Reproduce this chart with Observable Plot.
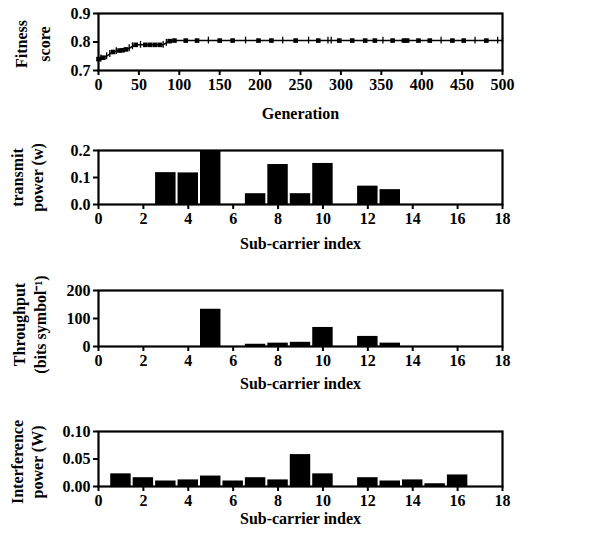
<!DOCTYPE html>
<html>
<head>
<meta charset="utf-8">
<script src="https://cdn.jsdelivr.net/npm/d3@7"></script>
<script src="https://cdn.jsdelivr.net/npm/@observablehq/plot@0.6"></script>
<style>
  html, body { margin: 0; padding: 0; background: #fff; }
  #chart { width: 601px; height: 541px; position: relative; }
  #chart svg { display: block; overflow: visible !important; background: transparent !important; }
</style>
</head>
<body>
<div id="chart"></div>
<script>
// ---- Data ----
const fitGen = [0,3,6,10,14,18,22,26,30,34,38,42,46,52,58,64,70,76,80,84,88,94,108,122,136,150,166,182,198,214,228,244,260,272,284,288,298,314,330,342,352,364,378,382,396,410,424,438,452,466,480,494,500];
const fitVal = [0.740,0.742,0.745,0.750,0.758,0.765,0.768,0.770,0.771,0.774,0.778,0.785,0.790,0.790,0.790,0.790,0.790,0.790,0.790,0.797,0.803,0.805,0.805,0.805,0.805,0.805,0.805,0.805,0.805,0.805,0.805,0.805,0.805,0.805,0.805,0.805,0.805,0.805,0.805,0.805,0.805,0.805,0.805,0.805,0.805,0.805,0.805,0.805,0.805,0.805,0.805,0.805,0.805];
const fitSym = ["s","p","s","p","p","s","p","s","s","s","p","p","s","p","s","s","s","s","p","p","s","s","s","s","p","s","s","p","s","s","p","s","p","s","p","p","s","s","s","s","p","s","s","s","s","s","p","s","s","p","s","p","p"];
const genTicks = [0,50,100,150,200,250,300,350,400,450,500];
const fitTicks = [0.7,0.8,0.9];

const subIndex = [1,2,3,4,5,6,7,8,9,10,11,12,13,14,15,16];
const txPower = [0,0,0.118,0.117,0.200,0,0.040,0.148,0.040,0.152,0,0.068,0.055,0,0,0];
const throughput = [0,0,0,0,133,0,8,12,15,68,0,36,12,0,0,0];
const interference = [0.023,0.016,0.010,0.012,0.019,0.010,0.016,0.012,0.058,0.023,0,0.016,0.010,0.012,0.005,0.021];
const subTicks = [0,2,4,6,8,10,12,14,16,18];
const txTicks = [0,0.1,0.2];
const thrTicks = [0,100,200];
const intTicks = [0,0.05,0.10];

const FONT = "Liberation Serif";

function panel({height, marginTop, marginBottom, xDomain, xTicks, yDomain, yTicks, yFmt, marks, yLabel, yLabelDx, yLabelDy = 0, yLineHeight, xLabel, xLabelDy}) {
  const svg = Plot.plot({
    width: 601, height, marginTop, marginBottom, marginLeft: 98, marginRight: 99,
    style: {background: "transparent", overflow: "visible"},
    x: {domain: xDomain},
    y: {domain: yDomain},
    marks: [
      ...marks,
      Plot.frame({stroke: "black", strokeWidth: 2.2}),
      Plot.axisX({ticks: xTicks, tickSize: 5, tickPadding: 3, strokeWidth: 2, label: null, fontSize: 16, fontFamily: FONT, fontWeight: "bold", tickFormat: d => String(d)}),
      Plot.axisY({ticks: yTicks, tickSize: 5, tickPadding: 3, strokeWidth: 2, label: null, fontSize: 16, fontFamily: FONT, fontWeight: "bold", tickFormat: yFmt}),
      Plot.text([yLabel], {frameAnchor: "left", dx: yLabelDx, dy: yLabelDy, rotate: -90, fontSize: 16, fontFamily: FONT, fontWeight: "bold", lineHeight: yLineHeight, textAnchor: "middle", lineAnchor: "middle"}),
      Plot.text([xLabel], {frameAnchor: "bottom", dy: xLabelDy, fontSize: 16, fontFamily: FONT, fontWeight: "bold", textAnchor: "middle", lineAnchor: "middle"})
    ]
  });
  svg.setAttribute("font-family", FONT);
  return svg;
}

const fitData = fitGen.map((g, i) => ({g, v: fitVal[i], s: fitSym[i]}));
const p1 = panel({
  height: 135, marginTop: 13, marginBottom: 65,
  xDomain: [0, 500], xTicks: genTicks, yDomain: [0.7, 0.9], yTicks: fitTicks, yFmt: d3.format(".1f"),
  marks: [
    Plot.line(fitData, {x: "g", y: "v", stroke: "black", strokeWidth: 1.5}),
    Plot.dot(fitData.filter(d => d.s === "s"), {x: "g", y: "v", symbol: "square", r: 2.6, fill: "black"}),
    Plot.ruleX(fitData.filter(d => d.s === "p"), {x: "g", y1: d => d.v - 0.012, y2: d => d.v + 0.012, stroke: "black", strokeWidth: 1.3})
  ],
  yLabel: "Fitness\nscore", yLabelDx: -67, yLabelDy: 2, yLineHeight: 1.4,
  xLabel: "Generation", xLabelDy: 43
});

function bars(vals) {
  const data = subIndex.map((i, k) => ({i, v: vals[k]})).filter(d => d.v > 0);
  return [Plot.rectY(data, {x1: d => d.i - 0.5, x2: d => d.i + 0.5, y1: 0, y2: "v", fill: "black", insetLeft: 1, insetRight: 1})];
}

const p2 = panel({
  height: 137, marginTop: 15, marginBottom: 68,
  xDomain: [0, 18], xTicks: subTicks, yDomain: [0, 0.2], yTicks: txTicks, yFmt: d3.format(".1f"),
  marks: bars(txPower),
  yLabel: "transmit\npower (w)", yLabelDx: -72, yLineHeight: 1.25,
  xLabel: "Sub-carrier index", xLabelDy: 39
});

const p3 = panel({
  height: 138, marginTop: 18, marginBottom: 64,
  xDomain: [0, 18], xTicks: subTicks, yDomain: [0, 200], yTicks: thrTicks, yFmt: d => String(d),
  marks: bars(throughput),
  yLabel: "Throughput\n(bits symbol\u207B\u00B9)", yLabelDx: -70, yLabelDy: 6, yLineHeight: 1.3,
  xLabel: "Sub-carrier index", xLabelDy: 37
});

const p4 = panel({
  height: 131, marginTop: 21, marginBottom: 55,
  xDomain: [0, 18], xTicks: subTicks, yDomain: [0, 0.1], yTicks: intTicks, yFmt: d3.format(".2f"),
  marks: bars(interference),
  yLabel: "Interference\npower (W)", yLabelDx: -72, yLabelDy: 3, yLineHeight: 1.25,
  xLabel: "Sub-carrier index", xLabelDy: 32
});

const c = document.getElementById("chart");
[p1, p2, p3, p4].forEach(p => c.appendChild(p));
</script>
</body>
</html>
